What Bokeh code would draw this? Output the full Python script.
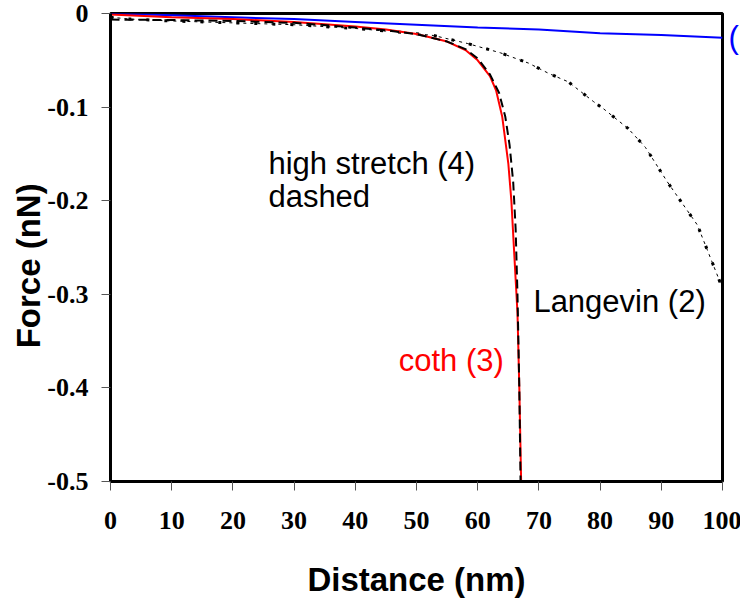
from bokeh.plotting import figure
from bokeh.models import Label, FixedTicker, Range1d, LinearAxis
from bokeh.embed import file_html
from bokeh.resources import INLINE

# ---- data ----
x_ticks = [0, 10, 20, 30, 40, 50, 60, 70, 80, 90, 100]
y_ticks = [0, -0.1, -0.2, -0.3, -0.4, -0.5]
y_tick_labels = ["0", "-0.1", "-0.2", "-0.3", "-0.4", "-0.5"]

# (1) blue curve
blue_x = [0, 10, 20, 30, 40, 50, 60, 70, 80, 90, 100]
blue_f = [0.0, -0.002, -0.004, -0.006, -0.009, -0.012, -0.015, -0.017, -0.021, -0.023, -0.026]
blue_label_f = -0.026   # force level at which the blue curve's label sits (right edge)

# Langevin (2) dotted
lang_x = [0, 3.3, 10, 20, 30, 40, 47.4, 52.8, 58.3, 63.7, 68.3, 71.6, 74.8, 78.9, 80.6,
          84.6, 87.4, 91.0, 95.9, 99.3, 101.0]
lang_f = [-0.004, -0.006, -0.008, -0.010, -0.012, -0.016, -0.020, -0.0235, -0.032, -0.042,
          -0.053, -0.064, -0.073, -0.094, -0.102, -0.123, -0.143, -0.180, -0.226, -0.282, -0.312]

# coth (3) red
coth_x = [0, 10, 20, 30, 40, 45, 50, 55, 58, 60, 62, 63, 64, 65, 65.5, 66, 66.5, 66.8, 67.1]
coth_f = [-0.001, -0.004, -0.006, -0.009, -0.014, -0.017, -0.022, -0.030, -0.039, -0.050,
          -0.067, -0.082, -0.110, -0.160, -0.200, -0.260, -0.320, -0.400, -0.500]

# high stretch (4) dashed
hs_x = [0, 10, 20, 30, 40, 45, 50, 55, 58, 60, 62, 63.5, 64.5, 65.2, 65.8, 66.2, 66.5, 66.8, 67.0]
hs_f = [-0.0065, -0.007, -0.008, -0.010, -0.015, -0.018, -0.022, -0.030, -0.038, -0.048,
        -0.065, -0.085, -0.110, -0.140, -0.180, -0.230, -0.300, -0.400, -0.500]

p = figure(frame_width=612, frame_height=468, x_range=Range1d(0, 100), y_range=Range1d(-0.5, 0),
           output_backend="svg", toolbar_location=None,
           min_border_left=110, min_border_right=0, min_border_top=13, min_border_bottom=117)

p.background_fill_color = "white"
p.border_fill_color = "white"
p.outline_line_color = "black"
p.outline_line_width = 3
p.outline_line_alpha = 1
p.xgrid.visible = False
p.ygrid.visible = False

for ax in (p.xaxis[0], p.yaxis[0]):
    ax.major_tick_in = 0
    ax.major_tick_out = 9
    ax.minor_tick_in = 0
    ax.minor_tick_out = 0
    ax.major_tick_line_color = "#555555"
    ax.major_tick_line_width = 1
    ax.axis_line_color = "black"
    ax.axis_line_width = 3
    ax.major_label_text_font = "Liberation Serif"
    ax.major_label_text_font_style = "bold"
    ax.major_label_text_font_size = "26px"
    ax.major_label_text_color = "black"
    ax.axis_label_text_font = "Liberation Sans"
    ax.axis_label_text_font_style = "bold"
    ax.axis_label_text_font_size = "33px"
    ax.axis_label_text_color = "black"

p.xaxis[0].ticker = FixedTicker(ticks=x_ticks)
p.xaxis[0].major_label_standoff = 21
p.xaxis[0].axis_label = "Distance (nm)"
p.xaxis[0].axis_label_standoff = 29
p.yaxis[0].ticker = FixedTicker(ticks=y_ticks)
p.yaxis[0].major_label_overrides = {t: s for t, s in zip(y_ticks, y_tick_labels)}
p.yaxis[0].major_label_standoff = 13
p.yaxis[0].axis_label = "Force (nN)" + "\u00a0" * 4
p.yaxis[0].axis_label_standoff = -3

# right-hand label of the blue curve, drawn as a single tick label outside the frame
rax = LinearAxis(ticker=FixedTicker(ticks=[blue_label_f]),
                 major_label_overrides={blue_label_f: "("},
                 major_tick_in=0, major_tick_out=0, minor_tick_in=0, minor_tick_out=0,
                 axis_line_color=None, major_label_standoff=6,
                 major_label_text_color="#0000ff", major_label_text_font="Liberation Sans",
                 major_label_text_font_size="31px")
p.add_layout(rax, "right")

# curves
p.line(blue_x, blue_f, line_color="#0000ff", line_width=2)
p.line(lang_x, lang_f, line_color="black", line_width=1, line_dash="3 4")
p.line(lang_x, lang_f, line_color="black", line_width=3, line_dash="3 15")
p.line(coth_x, coth_f, line_color="#ff0000", line_width=2)
p.line(hs_x, hs_f, line_color="black", line_width=2, line_dash="9 5")

# annotations
def add_text(x, y, text, color="black"):
    p.add_layout(Label(x=x, y=y, text=text, text_color=color, text_font_size="31px",
                       text_font="Liberation Sans", text_align="left",
                       text_baseline="alphabetic"))

add_text(25.8, -0.160, "high stretch (4)")
add_text(25.8, -0.195, "dashed")
add_text(69.1, -0.308, "Langevin (2)")
add_text(47.1, -0.371, "coth (3)", color="#ff0000")

open("out.html", "w").write(file_html(p, INLINE))
